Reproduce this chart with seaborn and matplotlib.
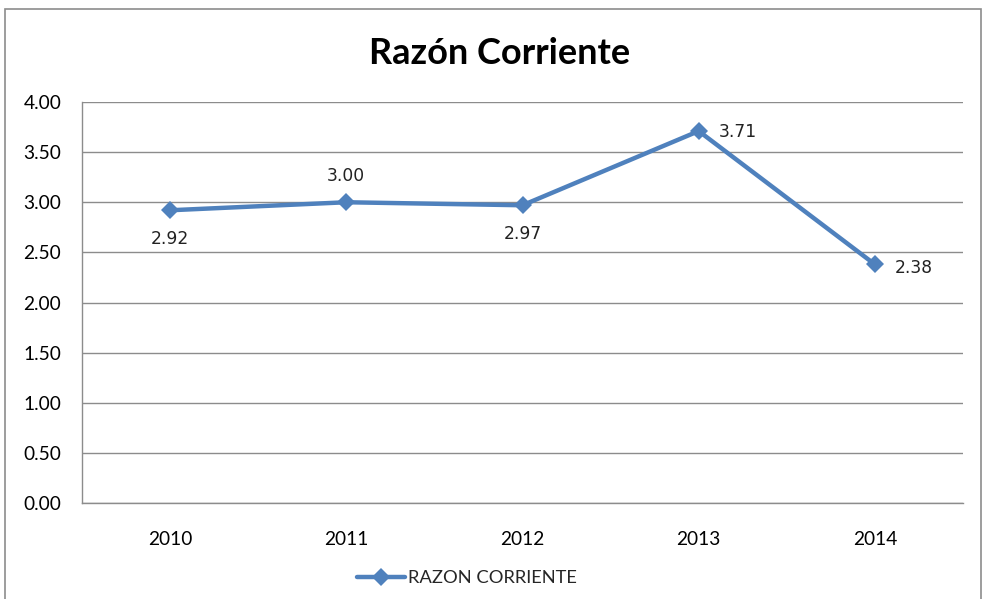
import matplotlib
matplotlib.use("Agg")
import matplotlib.pyplot as plt
import seaborn as sns
import pandas as pd
from matplotlib.patches import Rectangle
from matplotlib.lines import Line2D

years = ["2010", "2011", "2012", "2013", "2014"]
values = [2.92, 3.00, 2.97, 3.71, 2.38]
series_name = "RAZON CORRIENTE"
title = "Razón Corriente"
y_ticks = [0.0, 0.5, 1.0, 1.5, 2.0, 2.5, 3.0, 3.5, 4.0]

df = pd.DataFrame({"year": years, "value": values})

sns.set_theme(style="white")
plt.rcParams["font.family"] = ["Lato", "DejaVu Sans"]

W, H = 987, 599
fig = plt.figure(figsize=(W / 100, H / 100), dpi=100)
fig.patch.set_facecolor("white")

# outer chart border
fig.patches.append(Rectangle((5 / W, -0.05), (981 - 5) / W, 1 - 9 / H + 0.05,
                             transform=fig.transFigure, fill=False,
                             edgecolor="#8c8c8c", linewidth=1.2))

ax = fig.add_axes([82 / W, 1 - 503 / H, (963 - 82) / W, (503 - 102) / H])
color = "#4F81BD"
sns.lineplot(data=df, x="year", y="value", ax=ax, color=color, linewidth=3.2,
             marker="D", markersize=9, markeredgewidth=0, sort=False)

ax.set_xlim(-0.5, 4.5)
ax.set_ylim(0, 4)
ax.set_yticks(y_ticks)
ax.set_yticklabels([f"{v:.2f}" for v in y_ticks])
ax.set_xticks(range(len(years)))
ax.set_xticklabels(years)
ax.set_xlabel("")
ax.set_ylabel("")
ax.yaxis.grid(True, color="#8c8c8c", linewidth=1)
ax.set_axisbelow(True)
for s in ["top", "right"]:
    ax.spines[s].set_visible(False)
for s in ["left", "bottom"]:
    ax.spines[s].set_color("#8c8c8c")
    ax.spines[s].set_linewidth(1)
ax.tick_params(axis="both", length=0, labelsize=13.8, colors="black")
ax.tick_params(axis="y", pad=15)
ax.tick_params(axis="x", pad=20)

# data labels
offsets = [(0, -20, "center", "top"), (0, 17, "center", "bottom"),
           (0, -20, "center", "top"), (20, -1, "left", "center"),
           (20, -4, "left", "center")]
for i, (v, (dx, dy, ha, va)) in enumerate(zip(values, offsets)):
    ax.annotate(f"{v:.2f}", (i, v), xytext=(dx * 0.72, dy * 0.72),
                textcoords="offset points", ha=ha, va=va,
                fontsize=12.3, family="DejaVu Sans", color="#222222")

fig.text(500 / W, 1 - 53 / H, title, ha="center", va="center",
         fontsize=26, fontweight="bold", color="black")

handle = Line2D([], [], color=color, linewidth=3.2, marker="D",
                markersize=9, markeredgewidth=0)
fig.legend([handle], [series_name], loc="center", bbox_to_anchor=(467 / W, 1 - 578 / H),
           frameon=False, fontsize=13.2, handlelength=2.6, handletextpad=0.2)

fig.savefig("out.png", dpi=100, facecolor="white")
